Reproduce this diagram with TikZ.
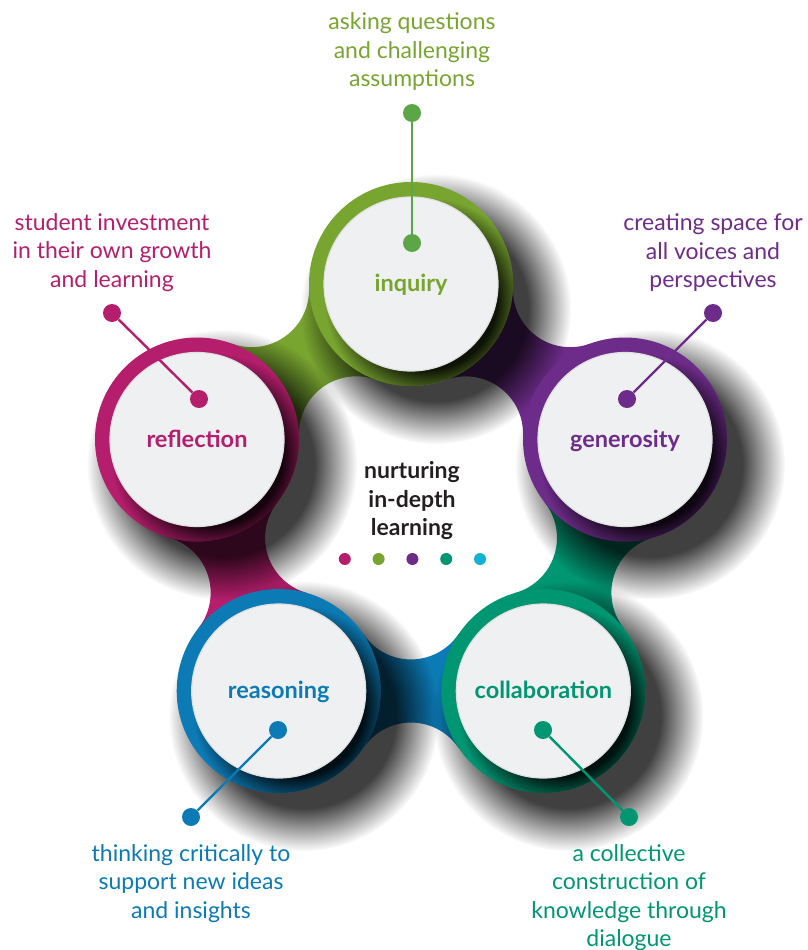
\documentclass[tikz,border=0pt]{standalone}
\usepackage{fontspec}
\setmainfont{Lato}
\usetikzlibrary{positioning,fadings}

\definecolor{inqgreen}{RGB}{120,164,48}
\definecolor{dotgreen}{RGB}{92,166,72}
\definecolor{refmagenta}{RGB}{180,30,108}
\definecolor{genpurple}{RGB}{110,44,138}
\definecolor{colteal}{RGB}{0,150,114}
\definecolor{reablue}{RGB}{12,122,180}
\definecolor{dotcyan}{RGB}{18,178,208}
\definecolor{discgray}{RGB}{238,240,242}
\definecolor{titleblack}{RGB}{35,31,32}

% soft shadow: opaque core, fading rim (25bp = edge of the circle)
\pgfdeclareradialshading{shadowshade}{\pgfpointorigin}{color(0bp)=(white); color(17bp)=(white); color(25bp)=(black); color(50bp)=(black)}
\pgfdeclarefading{softdisc}{\pgfuseshading{shadowshade}}

% one neck between two neighbouring rings, ring centres 264.5 apart
\newcommand{\bandpath}{(0,0) -- (84.7,56.9) arc[start angle=213.9, end angle=326.1, radius=57.3]
  -- (264.5,0) -- (179.8,-56.9) arc[start angle=33.9, end angle=146.1, radius=57.3] -- cycle}

\tikzset{
  drop/.style   = {fill=black, fill opacity=.75, path fading=softdisc},
  disc/.style   = {circle, minimum size=174, inner sep=0, fill=discgray, draw=black!12, line width=1.2,
                   font=\fontsize{23.5}{26}\selectfont\bfseries, text height=15pt, text depth=0pt},
  dot/.style    = {circle, minimum size=18, inner sep=0},
  cdot/.style   = {circle, minimum size=12, inner sep=0},
  link/.style   = {line width=2.4},
  note/.style   = {align=center, inner sep=0, font=\fontsize{23}{28.5}\selectfont},
  title/.style  = {align=center, inner sep=0, text=titleblack, font=\fontsize{23}{28.5}\selectfont\bfseries}
}

\begin{document}
\begin{tikzpicture}[x=1pt, y=-1pt]
  \useasboundingbox (0,0) rectangle (808,950);

  % ring centres
  \coordinate (inqc) at (411,284);
  \coordinate (genc) at (625,439.5);
  \coordinate (colc) at (543.3,691);
  \coordinate (reac) at (278.7,691);
  \coordinate (refc) at (197,439.5);

  % necks, each in the colour of the ring it leaves
  \foreach \c/\a/\col in {inqc/216/inqgreen, genc/144/genpurple, colc/72/colteal, reac/0/reablue, refc/288/refmagenta}
    \fill[\col, shift={(\c)}, rotate=\a] \bandpath;

  % shadows
  \foreach \c in {inqc,genc,colc,reac,refc}
    \fill[drop] ([shift={(25,25)}]\c) circle (135);

  % coloured rings
  \foreach \c/\col in {inqc/inqgreen, genc/genpurple, colc/colteal, reac/reablue, refc/refmagenta} {
    \fill[\col] (\c) circle (102);
    \begin{scope}
      \clip (\c) circle (102);
      \fill[drop, fill opacity=.88] ([shift={(16,16)}]\c) circle (102);
    \end{scope}
  }

  \node[disc, text=inqgreen]   (inquiry)       at (inqc) {inquiry};
  \node[disc, text=genpurple]  (generosity)    at (genc) {generosity};
  \node[disc, text=colteal]    (collaboration) at (colc) {collaboration};
  \node[disc, text=reablue]    (reasoning)     at (reac) {reasoning};
  \node[disc, text=refmagenta] (reflection)    at (refc) {reflection};

  % pins
  \node[dot, fill=dotgreen]   (inqout) at (412,113) {};
  \node[dot, fill=dotgreen]   (inqin)  at (412,243) {};
  \node[dot, fill=genpurple]  (genout) at (713,313) {};
  \node[dot, fill=genpurple]  (genin)  at (627,399) {};
  \node[dot, fill=colteal]    (colout) at (629,817) {};
  \node[dot, fill=colteal]    (colin)  at (543,730) {};
  \node[dot, fill=reablue]    (reaout) at (191,817) {};
  \node[dot, fill=reablue]    (reain)  at (278,730) {};
  \node[dot, fill=refmagenta] (refout) at (112,313) {};
  \node[dot, fill=refmagenta] (refin)  at (199,399) {};
  \draw[link, dotgreen]   (inqout) -- (inqin);
  \draw[link, genpurple]  (genout) -- (genin);
  \draw[link, colteal]    (colout) -- (colin);
  \draw[link, reablue]    (reaout) -- (reain);
  \draw[link, refmagenta] (refout) -- (refin);

  % notes
  \node[note, text=inqgreen, above=13pt of inqout] (inqnote) {asking questions\\and challenging\\assumptions};
  \node[note, text=genpurple, above=12pt of genout] (gennote) {creating space for\\all voices and\\perspectives};
  \node[note, text=refmagenta, above=12pt of refout] (refnote) {student investment\\in their own growth\\and learning};
  \node[note, text=reablue, below=18pt of reaout] (reanote) {thinking critically to\\support new ideas\\and insights};
  \node[note, text=colteal, below=18pt of colout] (colnote) {a collective\\construction of\\knowledge through\\dialogue};

  % centre
  \node[title] (core) at (412,501) {nurturing\\in-depth\\learning};
  \foreach \col [count=\i] in {refmagenta,inqgreen,genpurple,colteal,dotcyan}
    \node[cdot, fill=\col] (cdot\i) at (311+33.8*\i,559) {};
\end{tikzpicture}
\end{document}
